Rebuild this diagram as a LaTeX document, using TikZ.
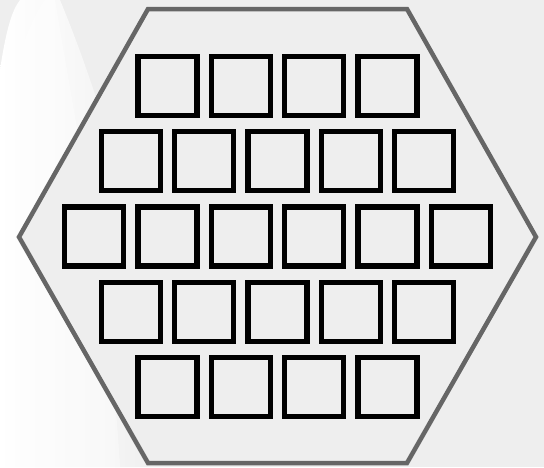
\documentclass[tikz,border=0pt]{standalone}
\usetikzlibrary{shapes.geometric}
\definecolor{bg}{HTML}{EEEEEE}
\definecolor{edge}{HTML}{666666}
\tikzset{
  cell/.style={draw=black, fill=bg, line width=5.3pt, minimum size=59pt, inner sep=0pt, rectangle},
  hexline/.style={draw=edge, fill=bg, line width=4.5pt, line join=miter}
}
\begin{document}
\begin{tikzpicture}[x=1pt,y=-1pt]
\useasboundingbox (0,0) rectangle (544,467);
\fill[bg] (0,0) rectangle (544,467);
% soft white glow at left
\begin{scope}
\clip (0,467) -- (0,70) .. controls (6,30) and (12,10) .. (20,0) -- (60,0) .. controls (110,120) and (160,300) .. (170,467) -- cycle;
\shade[left color=white, right color=bg, shading angle=90] (0,0) rectangle (170,467);
\end{scope}
\begin{scope}
\clip (0,467) -- (0,140) .. controls (10,70) and (28,25) .. (45,0) -- (55,0) .. controls (80,150) and (110,300) .. (120,467) -- cycle;
\fill[white, opacity=0.4] (0,0) rectangle (170,467);
\end{scope}
% hexagon
\path[hexline] (148,9) -- (407,9) -- (536,237) -- (407,463) -- (148,463) -- (19,237) -- cycle;
% cells
\foreach \n [count=\r from 0] in {4,5,6,5,4} {
  \foreach \i in {1,...,\n} {
    \node[cell] (c\r-\i) at ({277.5+(\i-(\n+1)/2)*73.3}, {85.8+75.3*\r}) {};
  }
}
\end{tikzpicture}
\end{document}
